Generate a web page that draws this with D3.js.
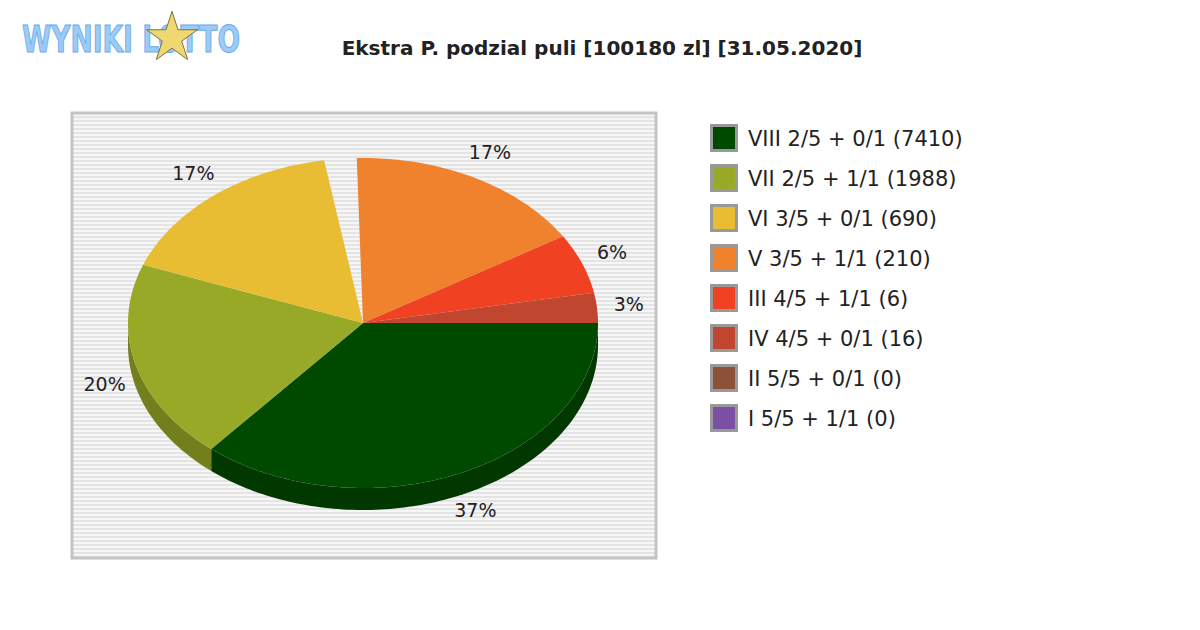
<!DOCTYPE html>
<html><head><meta charset="utf-8">
<script src="https://cdn.jsdelivr.net/npm/d3@7/dist/d3.min.js"></script>
<style>body{margin:0;background:#fff}</style></head>
<body><svg id="c" width="1200" height="630"></svg>
<script>
const categories=["VIII 2/5 + 0/1 (7410)","VII 2/5 + 1/1 (1988)","VI 3/5 + 0/1 (690)","V 3/5 + 1/1 (210)","III 4/5 + 1/1 (6)","IV 4/5 + 0/1 (16)","II 5/5 + 0/1 (0)","I 5/5 + 1/1 (0)"];
const values=[37,20,17,17,6,3,0,0];
const labels=["37%","20%","17%","17%","6%","3%","",""];
const colors=["#004a00","#97a926","#e9bd33","#f0822d","#f04122","#c0462f","#8b5238","#7b4fa3"];
const svg=d3.select("#c");
svg.append("text").attr("x",22).attr("y",52).attr("font-family","DejaVu Sans Condensed").attr("font-weight","bold").attr("font-size",38).attr("fill","#9ccbf6").attr("stroke","#6aaaea").attr("stroke-width",1).attr("textLength",218).attr("lengthAdjust","spacingAndGlyphs").text("WYNIKI LOTTO");
svg.append("path").attr("d",d3.symbol(d3.symbolStar,800)()).attr("transform","translate(172,38)").attr("fill","#f0d870").attr("stroke","#807040");
svg.append("text").attr("x",602).attr("y",55).attr("text-anchor","middle").attr("font-family","DejaVu Sans").attr("font-weight","bold").attr("font-size",20).attr("fill","#222").text("Ekstra P. podzial puli [100180 zl] [31.05.2020]");
const bx=72,by=113,bw=584,bh=445;
svg.append("rect").attr("x",bx).attr("y",by).attr("width",bw).attr("height",bh).attr("fill","#f6f6f6");
for(let y=by+3;y<by+bh;y+=4) svg.append("rect").attr("x",bx).attr("y",y).attr("width",bw).attr("height",2).attr("fill","#e4e4e4");
svg.append("rect").attr("x",bx).attr("y",by).attr("width",bw).attr("height",bh).attr("fill","none").attr("stroke","#c4c4c4").attr("stroke-width",3);
const cx=363,cy=323,rx=235,ry=165,dep=22,gap=8*Math.PI/180;
const total=d3.sum(values);
const span=2*Math.PI-gap;
const ang=[];let a=0;
values.forEach((v,i)=>{const s=v/total*span;ang.push([a,a+s]);a+=s;if(i==2)a+=gap;});
const P=(t,dy=0)=>[cx+rx*Math.cos(t),cy+ry*Math.sin(t)+dy];
const dark=c=>d3.color(c).darker(0.8).formatHex();
const g=svg.append("g");
function arcPts(a0,a1,dy){const n=Math.max(2,Math.ceil((a1-a0)/0.02));return d3.range(n+1).map(k=>P(a0+(a1-a0)*k/n,dy));}
values.forEach((v,i)=>{if(!v)return;let[a0,a1]=ang[i];
 const s0=Math.max(a0,0),s1=Math.min(a1,Math.PI);
 if(s1>s0){const top=arcPts(s0,s1,0),bot=arcPts(s0,s1,dep).reverse();
  g.append("path").attr("d",d3.line()(top.concat(bot))+"Z").attr("fill",dark(colors[i]));}
});
values.forEach((v,i)=>{if(!v)return;const[a0,a1]=ang[i];
 g.append("path").attr("d",d3.line()([[cx,cy]].concat(arcPts(a0,a1,0)))+"Z").attr("fill",colors[i]);
 const m=(a0+a1)/2;const lp=[cx+(rx+32)*Math.cos(m),cy+(ry+28)*Math.sin(m)+(Math.sin(m)>0?dep*0.6:0)];
 g.append("text").attr("x",lp[0]).attr("y",lp[1]+6).attr("text-anchor","middle").attr("font-family","DejaVu Sans").attr("font-size",19).attr("fill","#222").text(labels[i]);
});
const L=svg.append("g");
categories.forEach((c,i)=>{const y=124+i*40;
 L.append("rect").attr("x",710).attr("y",y).attr("width",28).attr("height",28).attr("fill","#999");
 L.append("rect").attr("x",713).attr("y",y+3).attr("width",22).attr("height",22).attr("fill",colors[i]);
 L.append("text").attr("x",748).attr("y",y+22).attr("font-family","DejaVu Sans").attr("font-size",21).attr("fill","#222").text(c);
});
</script></body></html>
